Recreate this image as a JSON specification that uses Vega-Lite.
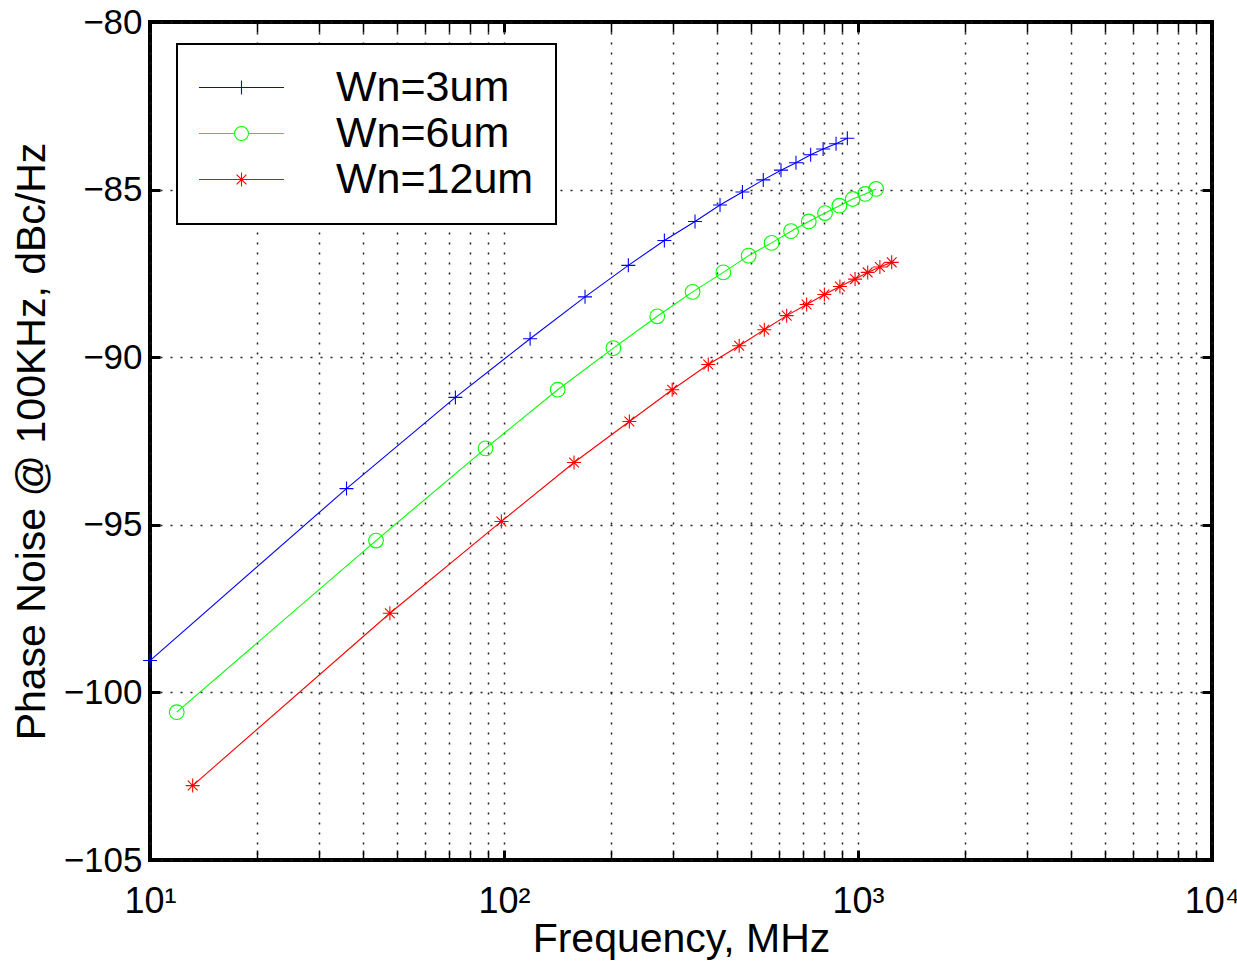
{
  "$schema": "https://vega.github.io/schema/vega-lite/v6.json",
  "width": 1062,
  "height": 838,
  "autosize": {"type": "none"},
  "padding": {"left": 150, "top": 22, "right": 25, "bottom": 103},
  "background": "white",
  "data": {
    "values": [
      {"series": "Wn=3um", "freq": 10, "pn": -99.05},
      {"series": "Wn=3um", "freq": 35.9, "pn": -93.92},
      {"series": "Wn=3um", "freq": 72.9, "pn": -91.2},
      {"series": "Wn=3um", "freq": 118.5, "pn": -89.45},
      {"series": "Wn=3um", "freq": 169.4, "pn": -88.2},
      {"series": "Wn=3um", "freq": 224.5, "pn": -87.26},
      {"series": "Wn=3um", "freq": 283.8, "pn": -86.52},
      {"series": "Wn=3um", "freq": 346.4, "pn": -85.95},
      {"series": "Wn=3um", "freq": 407.6, "pn": -85.46},
      {"series": "Wn=3um", "freq": 471.6, "pn": -85.07},
      {"series": "Wn=3um", "freq": 540, "pn": -84.71},
      {"series": "Wn=3um", "freq": 606, "pn": -84.42},
      {"series": "Wn=3um", "freq": 668, "pn": -84.2},
      {"series": "Wn=3um", "freq": 735, "pn": -83.96},
      {"series": "Wn=3um", "freq": 797, "pn": -83.79},
      {"series": "Wn=3um", "freq": 867, "pn": -83.63},
      {"series": "Wn=3um", "freq": 933, "pn": -83.47},
      {"series": "Wn=6um", "freq": 11.9, "pn": -100.59},
      {"series": "Wn=6um", "freq": 43.5, "pn": -95.47},
      {"series": "Wn=6um", "freq": 88.7, "pn": -92.72},
      {"series": "Wn=6um", "freq": 141.8, "pn": -90.97},
      {"series": "Wn=6um", "freq": 203.7, "pn": -89.73},
      {"series": "Wn=6um", "freq": 271, "pn": -88.78},
      {"series": "Wn=6um", "freq": 341, "pn": -88.05},
      {"series": "Wn=6um", "freq": 416.5, "pn": -87.47},
      {"series": "Wn=6um", "freq": 491, "pn": -86.97},
      {"series": "Wn=6um", "freq": 570, "pn": -86.59},
      {"series": "Wn=6um", "freq": 647, "pn": -86.24},
      {"series": "Wn=6um", "freq": 726, "pn": -85.95},
      {"series": "Wn=6um", "freq": 807, "pn": -85.7},
      {"series": "Wn=6um", "freq": 886, "pn": -85.48},
      {"series": "Wn=6um", "freq": 966, "pn": -85.28},
      {"series": "Wn=6um", "freq": 1048, "pn": -85.13},
      {"series": "Wn=6um", "freq": 1125, "pn": -84.98},
      {"series": "Wn=12um", "freq": 13.2, "pn": -102.78},
      {"series": "Wn=12um", "freq": 47.6, "pn": -97.64},
      {"series": "Wn=12um", "freq": 98.3, "pn": -94.9},
      {"series": "Wn=12um", "freq": 157.7, "pn": -93.14},
      {"series": "Wn=12um", "freq": 226, "pn": -91.92},
      {"series": "Wn=12um", "freq": 298.6, "pn": -90.97},
      {"series": "Wn=12um", "freq": 377.6, "pn": -90.22},
      {"series": "Wn=12um", "freq": 461.7, "pn": -89.66},
      {"series": "Wn=12um", "freq": 543.6, "pn": -89.18},
      {"series": "Wn=12um", "freq": 628.9, "pn": -88.76},
      {"series": "Wn=12um", "freq": 716, "pn": -88.43},
      {"series": "Wn=12um", "freq": 803.5, "pn": -88.13},
      {"series": "Wn=12um", "freq": 889, "pn": -87.89},
      {"series": "Wn=12um", "freq": 981, "pn": -87.67},
      {"series": "Wn=12um", "freq": 1065, "pn": -87.47},
      {"series": "Wn=12um", "freq": 1153, "pn": -87.31},
      {"series": "Wn=12um", "freq": 1245, "pn": -87.17}
    ]
  },
  "layer": [
    {
      "mark": {"type": "line", "strokeWidth": 1.1},
      "encoding": {
        "x": {
          "field": "freq", "type": "quantitative",
          "scale": {"type": "log", "domain": [10, 10000], "nice": false},
          "axis": {
            "orient": "bottom",
            "values": [10, 20, 30, 40, 50, 60, 70, 80, 90, 100, 200, 300, 400, 500, 600, 700, 800, 900, 1000, 2000, 3000, 4000, 5000, 6000, 7000, 8000, 9000, 10000],
            "grid": true,
            "tickSize": -10,
            "tickWidth": {"condition": {"test": "indexof([10,100,1000,10000], datum.value) >= 0", "value": 3}, "value": 1.5},
            "labelExpr": "datum.value == 10 ? '10¹' : datum.value == 100 ? '10²' : datum.value == 1000 ? '10³' : datum.value == 10000 ? '10⁴' : ''",
            "labelFontSize": 36,
            "labelPadding": 34,
            "labelFlush": false,
            "labelOverlap": false,
            "title": "Frequency, MHz",
            "titleFontSize": 41,
            "titlePadding": 0
          }
        },
        "y": {
          "field": "pn", "type": "quantitative",
          "scale": {"domain": [-105, -80], "nice": false, "zero": false},
          "axis": {
            "orient": "left",
            "values": [-105, -100, -95, -90, -85, -80],
            "grid": true,
            "tickSize": -10,
            "tickWidth": 3,
            "labelFontSize": 35,
            "labelPadding": 18,
            "title": "Phase Noise @ 100KHz, dBc/Hz",
            "titleFontSize": 41,
            "titlePadding": 10
          }
        },
        "color": {
          "field": "series", "type": "nominal",
          "scale": {"domain": ["Wn=3um", "Wn=6um", "Wn=12um"], "range": ["#0000ff", "#00ff00", "#ff0000"]}
        }
      }
    },
    {
      "transform": [{"filter": "datum.series === 'Wn=3um'"}],
      "mark": {"type": "point", "filled": false, "size": 196, "strokeWidth": 1.1, "opacity": 1, "shape": "M-1,0H1M0,-1V1"},
      "encoding": {
        "x": {"field": "freq", "type": "quantitative", "axis": null},
        "y": {"field": "pn", "type": "quantitative", "axis": null},
        "color": {"field": "series", "type": "nominal"}
      }
    },
    {
      "transform": [{"filter": "datum.series === 'Wn=6um'"}],
      "mark": {"type": "point", "filled": false, "size": 196, "strokeWidth": 1.1, "opacity": 1, "shape": "M1.05,0A1.05,1.05,0,1,1,-1.05,0A1.05,1.05,0,1,1,1.05,0"},
      "encoding": {
        "x": {"field": "freq", "type": "quantitative", "axis": null},
        "y": {"field": "pn", "type": "quantitative", "axis": null},
        "color": {"field": "series", "type": "nominal"}
      }
    },
    {
      "transform": [{"filter": "datum.series === 'Wn=12um'"}],
      "mark": {"type": "point", "filled": false, "size": 196, "strokeWidth": 1.1, "opacity": 1, "shape": "M-1,0H1M0,-1V1M-0.7,-0.7L0.7,0.7M-0.7,0.7L0.7,-0.7"},
      "encoding": {
        "x": {"field": "freq", "type": "quantitative", "axis": null},
        "y": {"field": "pn", "type": "quantitative", "axis": null},
        "color": {"field": "series", "type": "nominal"}
      }
    },
    {
      "mark": {"type": "point", "filled": false, "opacity": 0},
      "encoding": {
        "x": {
          "field": "freq", "type": "quantitative",
          "axis": {
            "orient": "top",
            "values": [10, 20, 30, 40, 50, 60, 70, 80, 90, 100, 200, 300, 400, 500, 600, 700, 800, 900, 1000, 2000, 3000, 4000, 5000, 6000, 7000, 8000, 9000, 10000],
            "grid": false, "labels": false, "title": null,
            "tickSize": -10,
            "tickWidth": {"condition": {"test": "indexof([10,100,1000,10000], datum.value) >= 0", "value": 3}, "value": 1.5}
          }
        },
        "y": {
          "field": "pn", "type": "quantitative",
          "axis": {
            "orient": "right",
            "values": [-105, -100, -95, -90, -85, -80],
            "grid": false, "labels": false, "title": null,
            "tickSize": -10, "tickWidth": 3
          }
        },
        "color": {"field": "series", "type": "nominal"},
        "shape": {
          "field": "series", "type": "nominal",
          "scale": {"domain": ["Wn=3um", "Wn=6um", "Wn=12um"], "range": ["M-6.07,0H6.07M0,-1V1", "M-6.07,0H-1M1,0H6.07M1,0A1,1,0,1,1,-1,0A1,1,0,1,1,1,0", "M-6.07,0H6.07M0,-1V1M-0.7,-0.7L0.7,0.7M-0.7,0.7L0.7,-0.7"]}
        }
      }
    }
  ],
  "resolve": {"axis": {"x": "independent", "y": "independent"}},
  "config": {
    "font": "Liberation Sans",
    "view": {"stroke": "black", "strokeWidth": 4},
    "axis": {
      "domain": false,
      "labelFont": "Liberation Sans",
      "titleFont": "Liberation Sans",
      "labelColor": "black",
      "titleColor": "black",
      "titleFontWeight": "normal",
      "tickColor": "black",
      "gridColor": "#222222",
      "gridDash": [2, 8],
      "gridWidth": 1.5,
      "gridOpacity": 1
    },
    "legend": {
      "orient": "none",
      "legendX": 27,
      "legendY": 22,
      "title": null,
      "labelFont": "Liberation Sans",
      "labelFontSize": 43,
      "labelColor": "black",
      "labelLimit": 400,
      "symbolSize": 196,
      "symbolStrokeWidth": 1.1,
      "symbolOffset": 21,
      "labelOffset": 73,
      "padding": 22,
      "rowPadding": 2,
      "strokeColor": "black",
      "strokeWidth": 2,
      "fillColor": "white",
      "symbolOpacity": 1
    }
  }
}
